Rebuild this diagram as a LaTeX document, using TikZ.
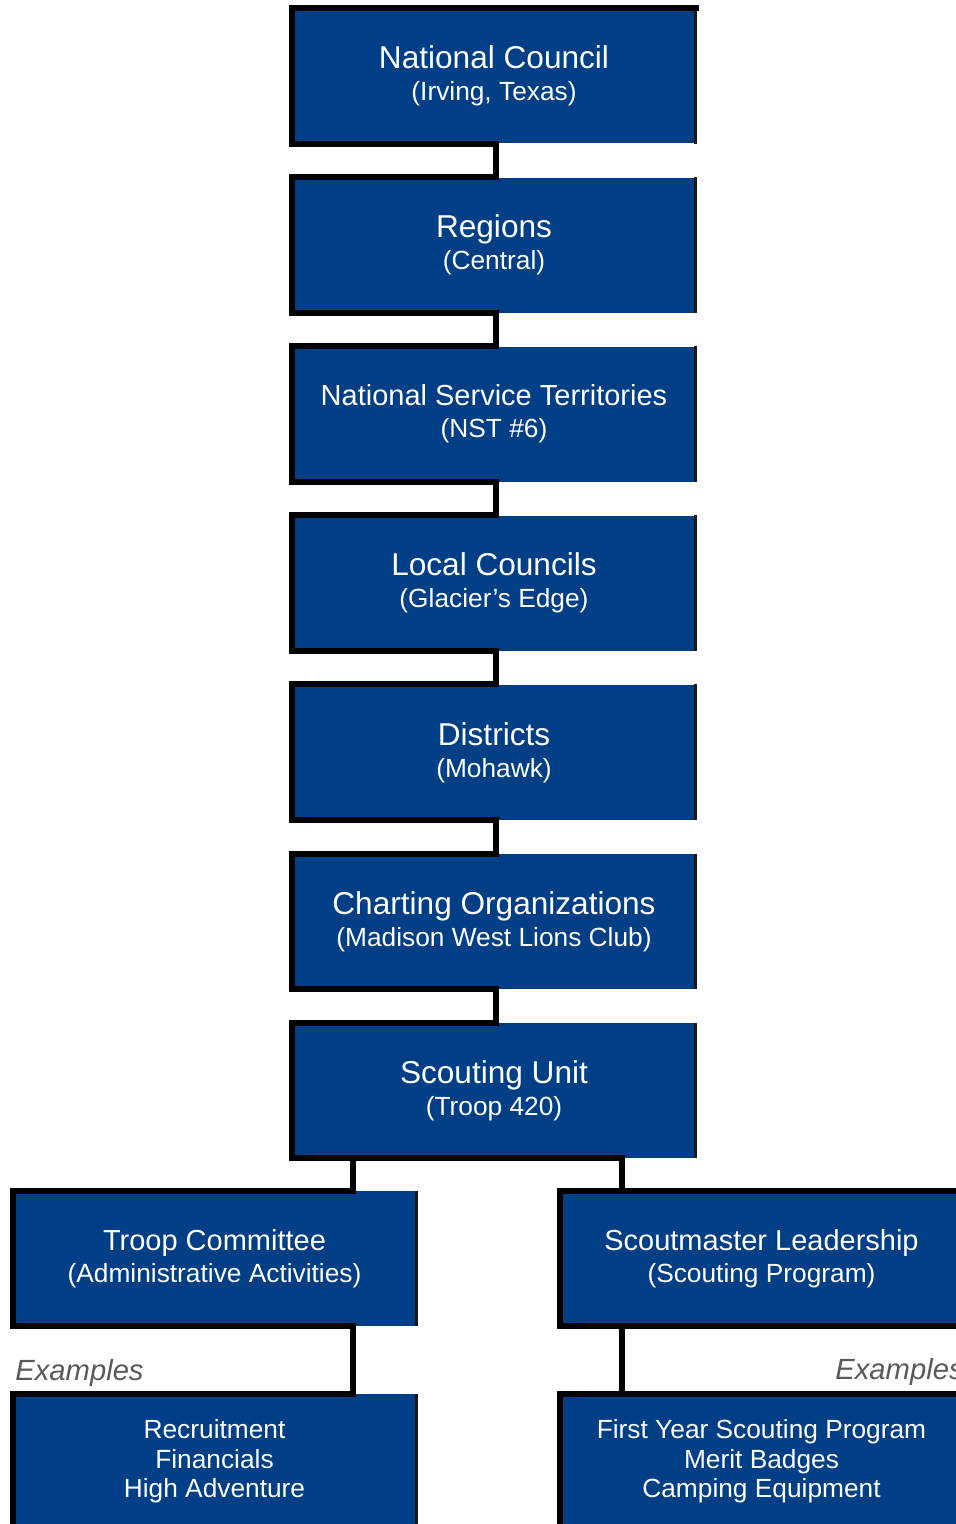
\documentclass[tikz,border=0pt]{standalone}
\usepackage{fontspec}
\setmainfont{Liberation Sans}
\usetikzlibrary{calc}
\definecolor{scoutblue}{RGB}{0,62,134}
\tikzset{
  unit/.style={fill=scoutblue, text=white, minimum width=201.5pt, minimum height=67.5pt,
    align=center, inner sep=0pt, font=\fontsize{13.15}{16}\selectfont},
  listing/.style={unit, font=\fontsize{13.15}{14.8}\selectfont},
  border/.style={line width=3pt, line cap=rect, line join=miter},
  rim/.style={line width=1.5pt, black!90},
  examples/.style={font=\fontsize{14.6}{16}\selectfont\itshape, text=black!65, anchor=base west, inner sep=0pt}
}
\newcommand{\bigline}[1]{{\fontsize{15.8}{16}\selectfont #1}}
\newcommand{\midline}[1]{{\fontsize{14.5}{16}\selectfont #1}}

\begin{document}
\begin{tikzpicture}[x=0.5pt, y=-0.5pt]
\useasboundingbox (0,0) rectangle (956,1524);
\clip (0,0) rectangle (956,1524);
\node[unit] (nc) at (494,76) {\bigline{National Council}\\(Irving, Texas)};
\node[unit] (rg) at (494,245.1) {\bigline{Regions}\\(Central)};
\node[unit] (nst) at (494,414.2) {\midline{National Service Territories}\\(NST \#6)};
\node[unit] (lc) at (494,583.2) {\bigline{Local Councils}\\(Glacier’s Edge)};
\node[unit] (dt) at (494,752.3) {\bigline{Districts}\\(Mohawk)};
\node[unit] (co) at (494,921.4) {\bigline{Charting Organizations}\\(Madison West Lions Club)};
\node[unit] (su) at (494,1090.5) {\bigline{Scouting Unit}\\(Troop 420)};
\node[unit] (tc) at (214.5,1258.5) {\midline{Troop Committee}\\(Administrative Activities)};
\node[unit, draw=black, line width=3pt] (sl) at (761.5,1258.5) {\midline{Scoutmaster Leadership}\\(Scouting Program)};
\node[listing] (rc) at (214.5,1461.5) {Recruitment\\Financials\\High Adventure};
\node[listing, draw=black, line width=3pt] (fy) at (761.5,1461.5) {First Year Scouting Program\\Merit Badges\\Camping Equipment};
\node[examples] (exl) at (15,1380) {Examples};
\node[examples] (exr) at (835,1379) {Examples};
\coordinate (tcin) at ($(tc.north east)+(-63.5,0)$);
\coordinate (slin) at ($(sl.north west)+(65,0)$);
\coordinate (rcin) at ($(rc.north east)+(-63.5,0)$);
\coordinate (fyin) at ($(fy.north west)+(65,0)$);
\foreach \n in {nc,rg,nst,lc,dt,co,su,tc,rc}
\draw[rim] (\n.north east) -- (\n.south east);
\foreach \n in {nc,rg,nst,lc,dt,co,su,tc,rc}
\draw[border] (\n.north west) -- (\n.south west);
\draw[border] (nc.north west) -- (nc.north east);
\foreach \a/\b in {nc/rg,rg/nst,nst/lc,lc/dt,dt/co,co/su}
\draw[border] (\a.south west) -| ($(\b.north)+(2,0)$) -- (\b.north west);
\draw[border] (su.south west) -| (slin);
\draw[border] (su.south -| tcin) -- (tcin) -- (tc.north west);
\draw[border] (tc.south west) -| (rcin) -- (rc.north west);
\draw[border] (sl.south -| fyin) -- (fyin);
\end{tikzpicture}
\end{document}
